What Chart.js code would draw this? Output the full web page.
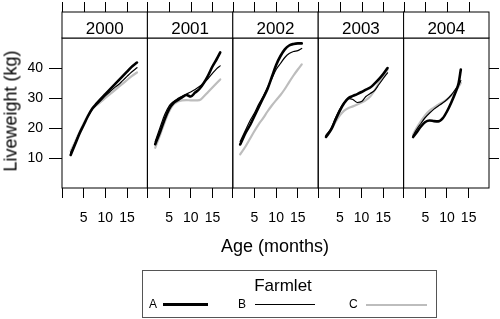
<!DOCTYPE html>
<html lang="en">
<head>
<meta charset="UTF-8">
<title>Liveweight by farmlet</title>
<script src="https://cdn.jsdelivr.net/npm/chart.js"></script>
<style>
  body { margin: 0; background: #fff; font-family: "Liberation Sans", Arial, sans-serif; }
  #wrap { position: relative; width: 500px; height: 319px; overflow: hidden; }
  #wrap canvas { position: absolute; left: 0; top: 0; }
  .txt { position: absolute; white-space: nowrap; color: #000; }
  .key-line { position: absolute; }
</style>
</head>
<body>
<div id="wrap">
  <canvas id="p0" width="500" height="319"></canvas>
  <canvas id="p1" width="500" height="319"></canvas>
  <canvas id="p2" width="500" height="319"></canvas>
  <canvas id="p3" width="500" height="319"></canvas>
  <canvas id="p4" width="500" height="319"></canvas>

  <div class="txt" style="left:11px;top:111px;font-size:18px;transform:translate(-50%,-50%) rotate(-90deg);">Liveweight (kg)</div>
  <div class="txt" style="left:275px;top:246px;font-size:18px;transform:translate(-50%,-50%);">Age (months)</div>

  <div style="position:absolute;left:142px;top:270px;width:293px;height:46px;border:1px solid #555;">
    <div class="txt" style="left:140px;top:15px;font-size:17px;transform:translate(-50%,-50%);">Farmlet</div>
    <div class="txt" style="left:6px;top:33px;font-size:12px;transform:translateY(-50%);">A</div>
    <div class="key-line" style="left:20px;top:32px;width:45px;height:3px;background:#000;"></div>
    <div class="txt" style="left:95px;top:33px;font-size:12px;transform:translateY(-50%);">B</div>
    <div class="key-line" style="left:112px;top:33px;width:60px;height:1.3px;background:#000;"></div>
    <div class="txt" style="left:206px;top:33px;font-size:12px;transform:translateY(-50%);">C</div>
    <div class="key-line" style="left:223px;top:32.5px;width:61px;height:2px;background:#bdbdbd;"></div>
  </div>
</div>

<script>
// panels
const years = ['2000', '2001', '2002', '2003', '2004'];
const xTicks = [0, 5, 10, 15];
const yTicks = [10, 20, 30, 40];

// age in months for each year, and liveweight (kg) per farmlet
const age2000 = [2, 3, 4, 5, 6, 7, 8, 9, 10, 11, 12, 13, 14, 15, 16, 17.3];
const a2000 = [11, 14.5, 18, 21, 24, 26.5, 28.2, 29.8, 31.3, 32.8, 34.3, 35.8, 37.3, 38.8, 40.3, 41.8];
const b2000 = [11.8, 15, 18.3, 21.2, 24, 26.3, 27.8, 29.2, 30.7, 32, 33.3, 34.4, 35.8, 37.2, 38.6, 40.1];
const c2000 = [12.3, 15.3, 18.5, 21.5, 24.2, 26.3, 27.6, 28.8, 30, 31.2, 32.4, 33.6, 34.8, 36, 37.2, 38.5];

const age2001 = [1.8, 3, 4, 5, 6, 7, 8, 9, 10, 11, 12, 13, 14, 15, 16, 16.8];
const a2001 = [14.6, 19, 23, 26.3, 28.3, 29.3, 30.2, 31, 30.5, 31.8, 33, 35, 37.5, 40.5, 43, 45.2];
const b2001 = [15.5, 20.5, 24.5, 27.3, 28.8, 29.8, 30.6, 31.3, 32, 32.8, 33.8, 35, 36.5, 38.2, 39.8, 40.7];
const c2001 = [13.4, 18, 22, 25.5, 27.8, 28.8, 29.2, 29.3, 29.2, 29.2, 29.3, 30.5, 32, 33.5, 35, 36.2];

const age2002 = [1.7, 3, 4, 5, 6, 7, 8, 9, 10, 11, 12, 13, 14, 15, 15.9];
const a2002 = [14.5, 18.5, 21, 24, 27, 30, 33, 37, 41, 44, 46.2, 47.5, 48, 48.2, 48.2];
const b2002 = [15.5, 19.5, 22.5, 25, 28, 30.5, 33.5, 36.5, 39.5, 41.5, 43.5, 44.8, 45.5, 45.8, 46.5];
const c2002 = [11.2, 14, 16.5, 19, 21.3, 23.3, 25.5, 27.5, 29.3, 31, 33, 35.3, 37.5, 39.5, 41.2];

const age2003 = [1.8, 3, 4, 5, 6, 7, 8, 9, 10, 11, 12, 13, 14, 15, 16];
const a2003 = [17, 19.5, 22.8, 25.8, 28.3, 30, 30.7, 31.3, 32, 32.8, 33.5, 34.8, 36.3, 38, 40];
const b2003 = [17.5, 20, 23.3, 26.3, 28.5, 29.8, 29.5, 28.5, 28.8, 30.5, 31.5, 32.5, 34.5, 36.5, 38.4];
const c2003 = [17.5, 19.5, 22, 24.2, 25.8, 26.7, 27.2, 27.8, 28.5, 29.3, 30.5, 32.5, 35, 37.3, 39.5];

const age2004 = [2.2, 3, 4, 5, 6, 7, 8, 9, 10, 11, 12, 12.7, 13.2];
const a2004 = [17, 18.5, 20.5, 22, 22.5, 22.3, 22.2, 23.2, 25.5, 28.5, 32, 35, 39.5];
const b2004 = [17.5, 19.5, 21.5, 23.5, 25, 26.3, 27.3, 28.3, 29.5, 31, 33, 34.3, 35.8];
const c2004 = [17.8, 20, 22.3, 24.3, 25.8, 26.8, 27.8, 28.6, 29.5, 30.8, 32.5, 33.8, 35];

const ages = [age2000, age2001, age2002, age2003, age2004];
const farmA = [a2000, a2001, a2002, a2003, a2004];
const farmB = [b2000, b2001, b2002, b2003, b2004];
const farmC = [c2000, c2001, c2002, c2003, c2004];

// layout of the lattice
const panelLeft = 62, panelRight = 489, panelTop = 38, panelBottom = 188, stripTop = 12;
const panelW = (panelRight - panelLeft) / years.length;
const FONT = '"Liberation Sans", Arial, sans-serif';

const pts = (xs, ys) => xs.map((x, i) => ({ x: x, y: ys[i] }));

const framePlugin = {
  id: 'frame',
  afterDraw(chart, args, opts) {
    const { ctx, chartArea: a } = chart;
    const xs = chart.scales.x, ys = chart.scales.y;
    ctx.save();
    ctx.strokeStyle = '#000';
    ctx.lineWidth = 1;
    ctx.strokeRect(a.left, a.top, a.right - a.left, a.bottom - a.top);
    ctx.fillStyle = '#fff';
    ctx.fillRect(a.left, stripTop, a.right - a.left, a.top - stripTop);
    ctx.strokeRect(a.left, stripTop, a.right - a.left, a.top - stripTop);
    ctx.fillStyle = '#000';
    ctx.font = '17px ' + FONT;
    ctx.textAlign = 'center';
    ctx.textBaseline = 'alphabetic';
    ctx.fillText(opts.label, (a.left + a.right) / 2, 33.5);
    ctx.beginPath();
    xTicks.forEach(v => {
      const x = Math.round(xs.getPixelForValue(v)) + 0.5;
      ctx.moveTo(x, stripTop);
      ctx.lineTo(x, stripTop - 10);
    });
    if (opts.last) {
      yTicks.forEach(v => {
        const y = Math.round(ys.getPixelForValue(v)) + 0.5;
        ctx.moveTo(a.right, y);
        ctx.lineTo(a.right + 10, y);
      });
    }
    ctx.stroke();
    ctx.restore();
  }
};

years.forEach((yr, i) => {
  const L = panelLeft + panelW * i;
  const R = L + panelW;
  const first = i === 0;
  new Chart(document.getElementById('p' + i), {
    type: 'line',
    data: {
      datasets: [
        { label: 'A', data: pts(ages[i], farmA[i]), borderColor: '#000', borderWidth: 2.6 },
        { label: 'B', data: pts(ages[i], farmB[i]), borderColor: '#000', borderWidth: 1.2 },
        { label: 'C', data: pts(ages[i], farmC[i]), borderColor: '#bdbdbd', borderWidth: 2.2 }
      ]
    },
    options: {
      responsive: false,
      animation: false,
      events: [],
      // the y axis of the first panel takes the left margin itself
      layout: { padding: { left: first ? 0 : L, right: 500 - R, top: panelTop, bottom: 0 } },
      elements: { point: { radius: 0 }, line: { cubicInterpolationMode: 'monotone', borderCapStyle: 'round' } },
      plugins: {
        legend: { display: false },
        tooltip: { enabled: false },
        frame: { label: yr, last: i === years.length - 1 }
      },
      scales: {
        x: {
          type: 'linear',
          position: 'bottom',
          min: 0,
          max: 19.7,
          afterFit: s => { s.height = 319 - panelBottom; },
          afterBuildTicks: s => { s.ticks = xTicks.map(v => ({ value: v })); },
          border: { display: false },
          grid: { drawOnChartArea: false, drawTicks: true, tickLength: 10, color: '#000' },
          ticks: {
            autoSkip: false,
            maxRotation: 0,
            padding: 12,
            color: '#000',
            font: { family: FONT, size: 14 },
            callback: v => (v === 0 ? '' : v)
          }
        },
        y: {
          type: 'linear',
          display: first,
          min: 0,
          max: 50,
          afterFit: s => { s.width = first ? panelLeft : 0; },
          afterBuildTicks: s => { s.ticks = yTicks.map(v => ({ value: v })); },
          border: { display: false },
          grid: { drawOnChartArea: false, drawTicks: true, tickLength: 13, color: '#000' },
          ticks: {
            padding: 6,
            color: '#000',
            font: { family: FONT, size: 14 }
          }
        }
      }
    },
    plugins: [framePlugin]
  });
});
</script>
</body>
</html>
